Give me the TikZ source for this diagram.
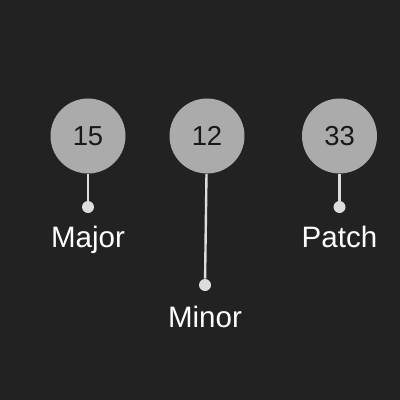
\documentclass[tikz,border=0pt]{standalone}
\usepackage{fontspec}
\setmainfont{Liberation Sans}
\usepackage{xcolor}
\usetikzlibrary{positioning}

\definecolor{bgdark}{HTML}{222222}
\definecolor{ballgrey}{HTML}{ABABAB}
\definecolor{stemgrey}{HTML}{DDDDDD}

\begin{document}
\begin{tikzpicture}[x=0.025cm, y=-0.025cm,
    ball/.style={circle, fill=ballgrey, minimum size=75*0.025cm, inner sep=0pt, text=black!90, font=\fontsize{19.5}{21}\selectfont},
    pin/.style={circle, fill=stemgrey, minimum size=12*0.025cm, inner sep=0pt},
    stem/.style={stemgrey, line width=1.7pt},
    tag/.style={anchor=base, text=white, font=\fontsize{21}{24}\selectfont}]
\fill[bgdark] (0,0) rectangle (400,400);
\useasboundingbox (0,0) rectangle (400,400);

% major
\node[ball] (b15) at (88,136) {15};
\node[pin] (p15) at (88,207) {};
\draw[stem] (b15) -- (p15);
\node[tag] (t15) at (88,247) {Major};

% minor
\node[ball] (b12) at (207,136) {12};
\node[pin] (p12) at (205,285) {};
\draw[stem] (b12) -- (p12);
\node[tag] (t12) at (205,327) {Minor};

% patch
\node[ball] (b33) at (339.5,136) {33};
\node[pin] (p33) at (339.5,207) {};
\draw[stem] (b33) -- (p33);
\node[tag] (t33) at (339.5,247) {Patch};
\end{tikzpicture}
\end{document}
